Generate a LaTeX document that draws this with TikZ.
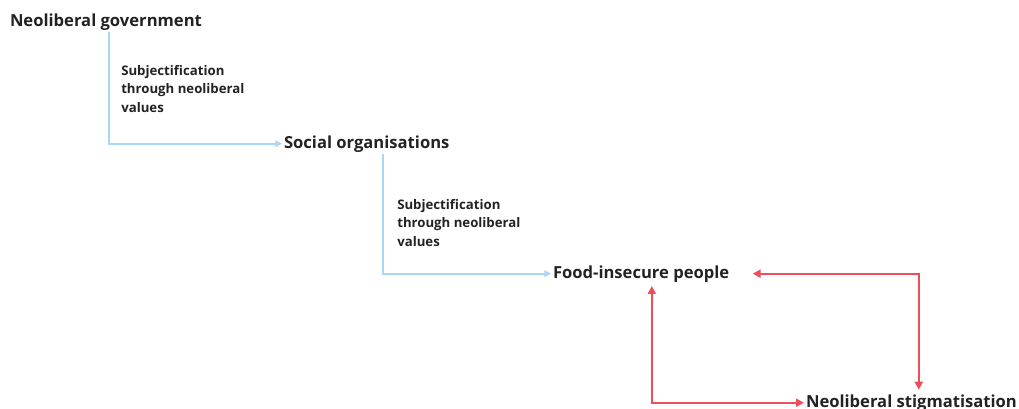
\documentclass[tikz,border=0pt]{standalone}
\usepackage{fontspec}
\setmainfont{Open Sans}
\usetikzlibrary{arrows.meta}
\definecolor{flowblue}{HTML}{A9D8F5}
\definecolor{flowred}{HTML}{EE4D5A}
\definecolor{inktext}{HTML}{222222}
\tikzset{
  actor/.style={anchor=base west, inner sep=0pt, outer sep=1.5pt, text=inktext,
    font=\bfseries\fontsize{12.45}{15}\selectfont},
  note/.style={anchor=north west, inner sep=0pt, align=left, text=inktext,
    font=\bfseries\fontsize{9.9}{13.9}\selectfont},
  blueflow/.style={draw=flowblue, line width=1.5pt, -{Triangle[length=5pt,width=5pt]}},
  redflow/.style={draw=flowred, line width=1.5pt,
    {Triangle[length=6pt,width=6pt]}-{Triangle[length=6pt,width=6pt]}}
}
\begin{document}
\begin{tikzpicture}[x=0.75pt,y=-0.75pt]
  \useasboundingbox (0,0) rectangle (1019,408);
  % the actors
  \node[actor] (gov)  at (8,26)    {Neoliberal government};
  \node[actor] (soc)  at (282,148) {Social organisations};
  \node[actor] (food) at (551,278) {Food-insecure people};
  \node[actor] (stig) at (804,407) {Neoliberal stigmatisation};
  % labels
  \node[note] (sub1) at (121,65)  {Subjectification\\through neoliberal\\values};
  \node[note] (sub2) at (397,199) {Subjectification\\through neoliberal\\values};
  % flows
  \draw[blueflow] ([xshift=2.6pt]gov.south) |- (soc.west);
  \draw[blueflow] ([xshift=12pt]soc.south) |- (food.west);
  \draw[redflow] ([xshift=16pt]food.east) -| ([xshift=5.5pt,yshift=2pt]stig.north);
  \draw[redflow] ([xshift=8pt,yshift=-1.5pt]food.south) |- (stig.west);
\end{tikzpicture}
\end{document}
